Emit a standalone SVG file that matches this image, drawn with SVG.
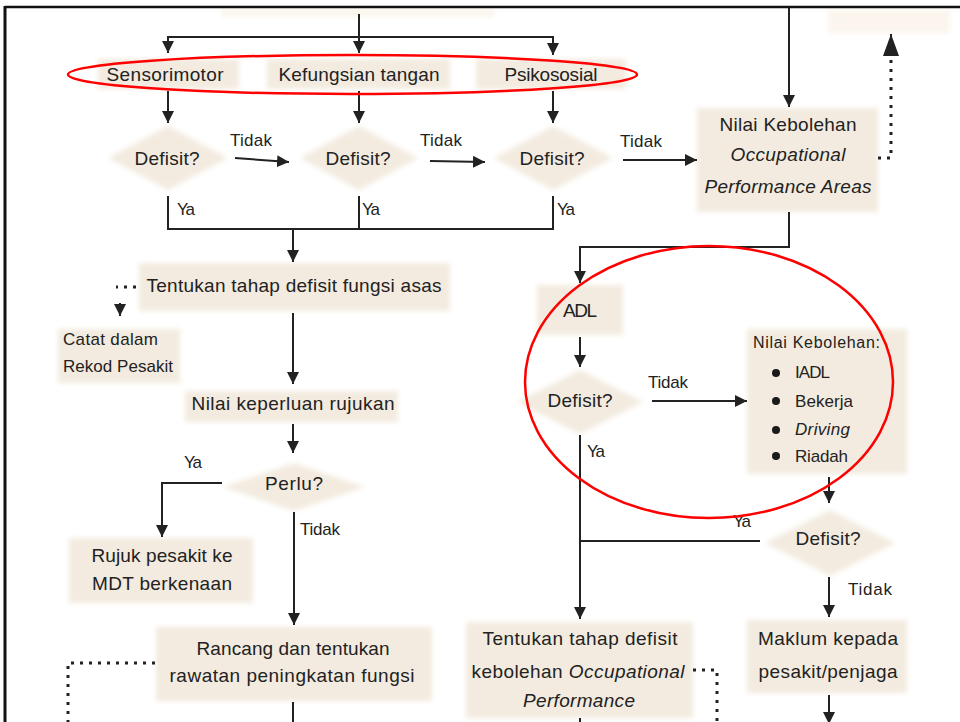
<svg xmlns="http://www.w3.org/2000/svg" width="960" height="722" viewBox="0 0 960 722">
<style>
.t{font-family:"Liberation Sans",Arial,sans-serif;font-size:19px;fill:#222}
.m{text-anchor:middle}
.s{font-size:17px}
.i{font-style:italic}
.bx{fill:#f3ebdf;filter:url(#soft)}
.fa{fill:#fbf5ed;filter:url(#soft)}
.ln{fill:none;stroke:#222;stroke-width:2}
.dt{fill:none;stroke:#222;stroke-width:3;stroke-dasharray:3 6}
.red{fill:none;stroke:#ff0000;stroke-width:2.5}
</style>
<defs>
<filter id="soft" x="-10%" y="-20%" width="120%" height="140%"><feGaussianBlur stdDeviation="2.5"/></filter>
<marker id="arr" markerUnits="userSpaceOnUse" markerWidth="12" markerHeight="12" refX="12" refY="6" orient="auto"><path d="M0,0 L12,6 L0,12 Z" fill="#222"/></marker>
<marker id="arrBig" markerUnits="userSpaceOnUse" markerWidth="22" markerHeight="16" refX="22" refY="8" orient="auto"><path d="M0,0 L22,8 L0,16 Z" fill="#222"/></marker>
</defs>
<rect width="960" height="722" fill="#fff"/>

<g id="top-box"><rect class="fa" x="222" y="8" width="272" height="9"/></g>
<g id="top-right-box"><rect class="fa" x="828" y="9" width="122" height="24"/></g>

<g id="sensorimotor"><rect class="bx" x="98" y="59" width="141" height="30"/><text class="t m" x="165" y="81" textLength="117">Sensorimotor</text></g>
<g id="kefungsian"><rect class="bx" x="267" y="59" width="183" height="30"/><text class="t m" x="359" y="81" textLength="161">Kefungsian tangan</text></g>
<g id="psikososial"><rect class="bx" x="476" y="59" width="150" height="30"/><text class="t m" x="551" y="81" textLength="93">Psikososial</text></g>

<g id="defisit1"><polygon class="bx" points="168,126 228,158 168,190 108,158"/><text class="t m" x="167" y="165" textLength="65">Defisit?</text></g>
<g id="defisit2"><polygon class="bx" points="359,126 418,158 359,190 300,158"/><text class="t m" x="358" y="165" textLength="65">Defisit?</text></g>
<g id="defisit3"><polygon class="bx" points="553,126 613,158 553,190 494,158"/><text class="t m" x="552" y="165" textLength="65">Defisit?</text></g>

<g id="nilai-opa"><rect class="bx" x="697" y="108" width="181" height="104"/>
<text class="t m" x="788" y="131" textLength="137">Nilai Kebolehan</text>
<text class="t m i" x="788" y="161" textLength="115">Occupational</text>
<text class="t m i" x="788" y="193" textLength="167">Performance Areas</text></g>

<g id="tentukan-asas"><rect class="bx" x="139" y="263" width="311" height="48"/><text class="t m" x="294" y="292" textLength="295">Tentukan tahap defisit fungsi asas</text></g>
<g id="catat"><rect class="bx" x="58" y="329" width="122" height="54"/><text class="t s" x="63" y="345" textLength="95">Catat dalam</text><text class="t s" x="63" y="372" textLength="110">Rekod Pesakit</text></g>
<g id="nilai-rujukan"><rect class="bx" x="185" y="391" width="213" height="31"/><text class="t m" x="293" y="410" textLength="203">Nilai keperluan rujukan</text></g>
<g id="perlu"><polygon class="bx" points="294,463 365,487 294,511 223,487"/><text class="t m" x="294" y="490" textLength="58">Perlu?</text></g>
<g id="rujuk"><rect class="bx" x="69" y="538" width="184" height="65"/><text class="t m" x="162" y="562" textLength="141">Rujuk pesakit ke</text><text class="t m" x="162" y="590" textLength="140">MDT berkenaan</text></g>
<g id="rancang"><rect class="bx" x="156" y="627" width="276" height="74"/><text class="t m" x="293" y="655" textLength="193">Rancang dan tentukan</text><text class="t m" x="292" y="682" textLength="245">rawatan peningkatan fungsi</text></g>

<g id="adl"><rect class="bx" x="537" y="285" width="86" height="50"/><text class="t m" x="580" y="317" textLength="34">ADL</text></g>
<g id="defisit-adl"><polygon class="bx" points="580,370 643,402 580,434 517,402"/><text class="t m" x="580" y="407" textLength="65">Defisit?</text></g>
<g id="nilai-list"><rect class="bx" x="747" y="329" width="160" height="145"/>
<text class="t" style="font-size:16px" x="753" y="348" textLength="127">Nilai Kebolehan:</text>
<circle cx="776" cy="373" r="4" fill="#1a1a1a"/><text class="t s" x="795" y="378" textLength="35">IADL</text>
<circle cx="776" cy="401" r="4" fill="#1a1a1a"/><text class="t s" x="795" y="407" textLength="58">Bekerja</text>
<circle cx="776" cy="430" r="4" fill="#1a1a1a"/><text class="t s i" x="795" y="435" textLength="55">Driving</text>
<circle cx="776" cy="456" r="4" fill="#1a1a1a"/><text class="t s" x="795" y="462" textLength="53">Riadah</text></g>
<g id="defisit-right"><polygon class="bx" points="830,510 895,543 830,576 765,543"/><text class="t m" x="828" y="545" textLength="65">Defisit?</text></g>
<g id="maklum"><rect class="bx" x="747" y="620" width="160" height="73"/><text class="t m" x="828" y="645" textLength="140">Maklum kepada</text><text class="t m" x="828" y="678" textLength="139">pesakit/penjaga</text></g>
<g id="tentukan-op"><rect class="bx" x="466" y="622" width="227" height="96"/>
<text class="t m" x="580" y="645" textLength="195">Tentukan tahap defisit</text>
<text class="t m" x="578" y="678" textLength="213">kebolehan <tspan class="i">Occupational</tspan></text>
<text class="t m i" x="579" y="707" textLength="112">Performance</text></g>

<g id="connectors">
<path class="ln" d="M359,14 V53" marker-end="url(#arr)"/>
<path class="ln" d="M168,53 V37 H553 V55" marker-end="url(#arr)"/>
<path class="ln" d="M168,37 V53" marker-end="url(#arr)"/>
<path class="ln" d="M168,91 V123" marker-end="url(#arr)"/>
<path class="ln" d="M359,91 V123" marker-end="url(#arr)"/>
<path class="ln" d="M553,91 V123" marker-end="url(#arr)"/>
<path class="ln" d="M235,158 L289,162" marker-end="url(#arr)"/>
<path class="ln" d="M430,161 L485,162" marker-end="url(#arr)"/>
<path class="ln" d="M623,160 L697,160" marker-end="url(#arr)"/>
<path class="ln" d="M168,196 V229 H553 V196"/>
<path class="ln" d="M359,196 V229"/>
<path class="ln" d="M293,229 V262" marker-end="url(#arr)"/>
<path class="dt" d="M136,287 H116"/>
<path class="ln" d="M120,303 V316" marker-end="url(#arr)"/>
<path class="ln" d="M293,313 V384" marker-end="url(#arr)"/>
<path class="ln" d="M293,424 V453" marker-end="url(#arr)"/>
<path class="ln" d="M222,483 H162 V537" marker-end="url(#arr)"/>
<path class="ln" d="M294,512 V625" marker-end="url(#arr)"/>
<path class="dt" d="M155,663 H68 V722"/>
<path class="ln" d="M293,702 V722"/>
<path class="ln" d="M789,8 V107" marker-end="url(#arr)"/>
<path class="dt" d="M878,158 H891 V58"/>
<path class="ln" d="M891,56 V34" marker-end="url(#arrBig)"/>
<path class="ln" d="M789,212 V247 H580 V283" marker-end="url(#arr)"/>
<path class="ln" d="M580,337 V367" marker-end="url(#arr)"/>
<path class="ln" d="M652,401 H747" marker-end="url(#arr)"/>
<path class="ln" d="M580,435 V619" marker-end="url(#arr)"/>
<path class="ln" d="M580,541 H760"/>
<path class="ln" d="M829,477 V503" marker-end="url(#arr)"/>
<path class="ln" d="M829,577 V617" marker-end="url(#arr)"/>
<path class="ln" d="M829,695 V724" marker-end="url(#arr)"/>
<path class="dt" d="M693,670 H717 V722"/>
<path class="ln" d="M580,718 V722"/>
</g>

<g id="labels">
<text class="t s" x="230" y="146" textLength="42">Tidak</text>
<text class="t s" x="420" y="146" textLength="42">Tidak</text>
<text class="t s" x="620" y="147" textLength="42">Tidak</text>
<text class="t s" x="177" y="215" textLength="18">Ya</text>
<text class="t s" x="362" y="215" textLength="18">Ya</text>
<text class="t s" x="557" y="215" textLength="18">Ya</text>
<text class="t s" x="184" y="468" textLength="18">Ya</text>
<text class="t s" x="300" y="535" textLength="40">Tidak</text>
<text class="t s" x="648" y="388" textLength="40">Tidak</text>
<text class="t s" x="587" y="457" textLength="18">Ya</text>
<text class="t s" x="733" y="527" textLength="18">Ya</text>
<text class="t s" x="848" y="595" textLength="44">Tidak</text>
</g>

<g id="highlights">
<ellipse class="red" cx="352.5" cy="74.5" rx="284.5" ry="19.5"/>
<ellipse class="red" cx="709" cy="382" rx="184" ry="136"/>
</g>

<g id="frame">
<path d="M5,7 H960" stroke="#111" stroke-width="2.5" fill="none"/>
<path d="M5,6 V722" stroke="#111" stroke-width="3" fill="none"/>
</g>
</svg>
